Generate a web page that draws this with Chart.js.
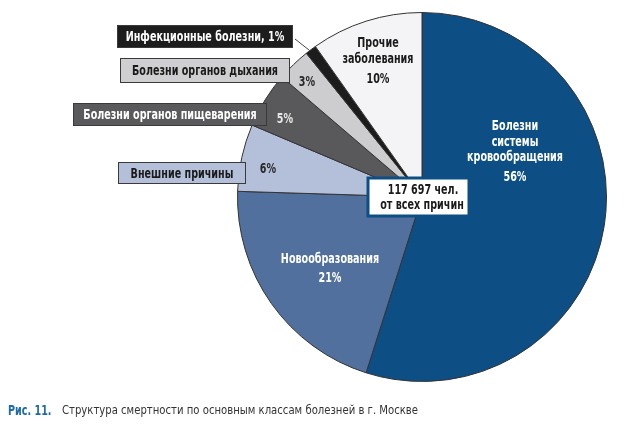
<!DOCTYPE html>
<html lang="ru">
<head>
    <meta charset="UTF-8">
    <title>Структура смертности</title>
    <script src="https://cdn.jsdelivr.net/npm/chart.js"></script>
    <style>
        body { margin: 0; background: #fff; }
        #wrap { position: relative; width: 629px; height: 431px; }
    </style>
</head>
<body>
<div id="wrap"><canvas id="pie"></canvas></div>

<script>
    // данные (по часовой стрелке от 12 часов)
    const categories = [
        'Болезни системы кровообращения',
        'Новообразования',
        'Внешние причины',
        'Болезни органов пищеварения',
        'Болезни органов дыхания',
        'Инфекционные болезни',
        'Прочие заболевания'
    ];
    const shares = [56, 21, 6, 5, 3, 1, 10];
    const sliceColors = ['#0d4e85', '#51709e', '#b4c0da', '#59595b', '#cdcdcf', '#1c1c1c', '#f4f4f6'];
    const totalText = ['117 697 чел.', 'от всех причин'];
    const captionNum = 'Рис. 11.';
    const captionText = 'Структура смертности по основным классам болезней в г. Москве';

    const FONT = "'DejaVu Sans', 'Liberation Sans', sans-serif";
    const BOLD = 'bold 13.5px ' + FONT;
    const REG = '13px ' + FONT;

    function pct(i) { return shares[i] + '%'; }

    // подписи внутри секторов: смещение от центра круга
    const innerLabels = [
        { i: 0, dx: 93, lines: [['Болезни', -71], ['системы', -55], ['кровообращения', -40], [pct(0), -20]], color: '#fff' },
        { i: 1, dx: -92, lines: [['Новообразования', 62], [pct(1), 81]], color: '#fff' },
        { i: 6, dx: -44, lines: [['Прочие', -154], ['заболевания', -138], [pct(6), -118]], color: '#1a1a1a' }
    ];
    // выноски-плашки слева
    const boxLabels = [
        { i: 5, text: categories[5] + ', ' + pct(5), x0: -305, x1: -129, y0: -172, y1: -149, fill: '#1e1d1d', color: '#fff' },
        { i: 4, text: categories[4], x0: -302, x1: -132, y0: -139, y1: -114, fill: '#cfcfd1', color: '#1a1a1a' },
        { i: 3, text: categories[3], x0: -349, x1: -155, y0: -94, y1: -71, fill: '#5a5a5c', color: '#fff' },
        { i: 2, text: categories[2], x0: -304, x1: -176, y0: -35, y1: -13, fill: '#b4c0da', color: '#1a1a1a' }
    ];
    const pctLabels = [
        { i: 4, dx: -115, dy: -115, color: '#2a2a2a' },
        { i: 3, dx: -137, dy: -78, color: '#e6e6e6' },
        { i: 2, dx: -154, dy: -28, color: '#2a2a2a' }
    ];

    // узкий шрифт: сжимаем текст по горизонтали
    function narrowText(ctx, t, x, y, k) {
        ctx.save();
        ctx.translate(x, y);
        ctx.scale(k, 1);
        ctx.fillText(t, 0, 0);
        ctx.restore();
    }

    const labelPlugin = {
        id: 'labels',
        afterDraw(chart) {
            const ctx = chart.ctx;
            const arc = chart.getDatasetMeta(0).data[0];
            const cx = arc.x, cy = arc.y;
            ctx.save();
            ctx.textAlign = 'center';
            ctx.textBaseline = 'middle';
            ctx.font = BOLD;
            const kb = 96 / ctx.measureText('кровообращения').width;

            innerLabels.forEach(l => {
                ctx.fillStyle = l.color;
                ctx.font = BOLD;
                l.lines.forEach(([t, dy]) => narrowText(ctx, t, cx + l.dx, cy + dy, kb));
            });

            // линия-выноска для инфекционных
            ctx.strokeStyle = '#444';
            ctx.lineWidth = 1;
            ctx.beginPath();
            ctx.moveTo(cx - 127, cy - 158);
            ctx.lineTo(cx - 113, cy - 147);
            ctx.stroke();

            boxLabels.forEach(b => {
                ctx.fillStyle = b.fill;
                ctx.fillRect(cx + b.x0, cy + b.y0, b.x1 - b.x0, b.y1 - b.y0);
                ctx.strokeStyle = '#3a3a3a';
                ctx.lineWidth = 1;
                ctx.strokeRect(cx + b.x0 + 0.5, cy + b.y0 + 0.5, b.x1 - b.x0 - 1, b.y1 - b.y0 - 1);
                ctx.fillStyle = b.color;
                ctx.font = BOLD;
                narrowText(ctx, b.text, cx + (b.x0 + b.x1) / 2, cy + (b.y0 + b.y1) / 2 + 1, kb);
            });

            pctLabels.forEach(l => {
                ctx.fillStyle = l.color;
                ctx.font = BOLD;
                narrowText(ctx, pct(l.i), cx + l.dx, cy + l.dy, kb);
            });

            // центральная плашка
            ctx.fillStyle = '#fff';
            ctx.fillRect(cx - 54, cy - 19, 101, 38);
            ctx.strokeStyle = '#0d4e85';
            ctx.lineWidth = 3;
            ctx.strokeRect(cx - 54, cy - 19, 101, 38);
            ctx.fillStyle = '#1a1a1a';
            ctx.font = BOLD;
            narrowText(ctx, totalText[0], cx + 1, cy - 7, kb);
            narrowText(ctx, totalText[1], cx, cy + 8, kb);

            // подпись к рисунку
            ctx.textAlign = 'left';
            ctx.fillStyle = '#1c6aa8';
            ctx.font = BOLD;
            narrowText(ctx, captionNum, 8, 411, kb);
            ctx.fillStyle = '#333';
            ctx.font = REG;
            const kr = 356 / ctx.measureText(captionText).width;
            narrowText(ctx, captionText, 62, 411, kr);
            ctx.restore();
        }
    };

    new Chart(document.getElementById('pie'), {
        type: 'pie',
        data: {
            labels: categories,
            datasets: [{
                data: shares,
                backgroundColor: sliceColors,
                borderColor: '#333',
                borderWidth: 1
            }]
        },
        options: {
            responsive: true,
            maintainAspectRatio: false,
            animation: false,
            devicePixelRatio: 1,
            layout: { padding: { top: 12, bottom: 49, left: 237, right: 22 } },
            plugins: { legend: { display: false }, tooltip: { enabled: false } }
        },
        plugins: [labelPlugin]
    });
</script>
</body>
</html>
